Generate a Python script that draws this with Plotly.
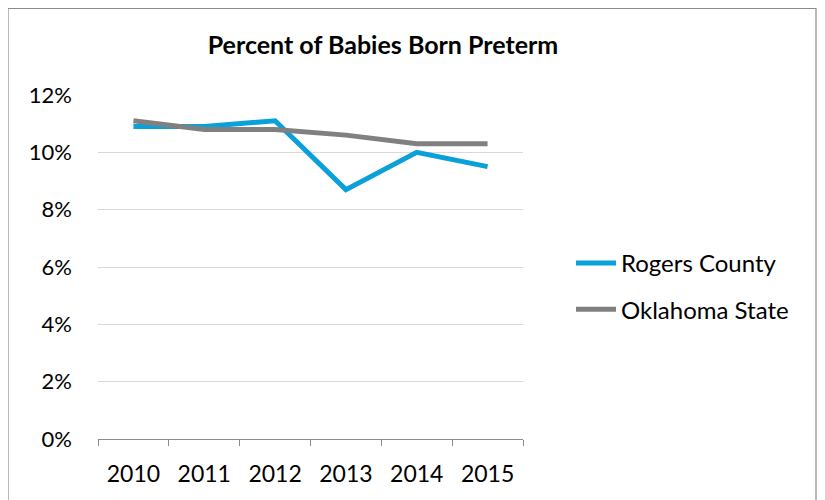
import plotly.graph_objects as go

years = ["2010", "2011", "2012", "2013", "2014", "2015"]
rogers = [10.9, 10.9, 11.1, 8.7, 10.0, 9.5]
oklahoma = [11.1, 10.8, 10.8, 10.6, 10.3, 10.3]
y_ticks = [0, 2, 4, 6, 8, 10, 12]
y_labels = ["0%", "2%", "4%", "6%", "8%", "10%", "12%"]

FONT = "Lato, Noto Sans, sans-serif"
OFF = 8  # page body margin

W, H = 825, 500
# plot area in screen pixels
SL, SR, ST, SB = 98, 523, 95, 439
L, T = SL - OFF, ST - OFF
R, B = W - (SR - OFF), H - (SB - OFF)
pw, ph = W - L - R, H - T - B

def px(x):
    return (x - OFF - L) / pw

def py(y):
    return (H - B - (y - OFF)) / ph

fig = go.Figure()
fig.add_trace(go.Scatter(x=years, y=rogers, mode="lines", name="Rogers County",
                         line=dict(color="#0AA0DA", width=5), legendgroup="a"))
fig.add_trace(go.Scatter(x=years, y=oklahoma, mode="lines", name="Oklahoma State",
                         line=dict(color="#808080", width=5), legendgroup="b"))

fig.add_shape(type="rect", xref="paper", yref="paper",
              x0=px(8), x1=px(816), y0=py(8.5), y1=py(530),
              line=dict(color="#8c8c8c", width=1.2), fillcolor="rgba(0,0,0,0)", layer="below")

fig.update_layout(
    width=W, height=H,
    margin=dict(l=L, r=R, t=T, b=B, autoexpand=False),
    paper_bgcolor="white", plot_bgcolor="white",
    font=dict(family=FONT, color="black"),
    title=dict(text="<b>Percent of Babies Born Preterm</b>", x=px(383), xanchor="center",
               xref="paper", y=1 - (45 - OFF) / H, yanchor="middle",
               font=dict(size=25, family=FONT, color="black")),
    showlegend=True,
    legend=dict(x=px(571), y=py(286.5), xanchor="left", yanchor="middle",
                font=dict(size=24, family=FONT, color="black"),
                traceorder="grouped", tracegroupgap=12, itemwidth=40,
                bgcolor="rgba(0,0,0,0)"),
    xaxis=dict(type="category", showgrid=False, showline=True, linecolor="#8c8c8c", linewidth=1,
               ticks="outside", tickson="boundaries", ticklen=6, tickcolor="#8c8c8c",
               tickfont=dict(size=23, family=FONT), range=[-0.5, 5.5], fixedrange=True,
               automargin=False, ticklabelstandoff=14),
    yaxis=dict(range=[0, 12], tickvals=y_ticks, ticktext=y_labels, showgrid=True,
               gridcolor="#d9d9d9", gridwidth=1.2, showline=False, zeroline=False,
               tickfont=dict(size=22, family=FONT), ticklen=0, ticks="",
               automargin=False, ticklabelstandoff=25),
)

fig.write_html("out.html")
